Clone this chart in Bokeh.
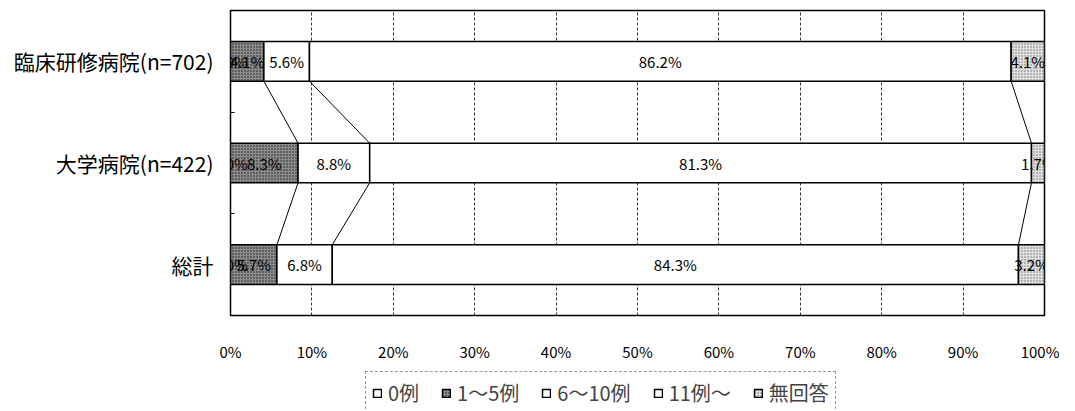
import numpy as np
from bokeh.plotting import figure
from bokeh.layouts import column
from bokeh.models import (Range1d, FixedTicker, ColumnDataSource, LabelSet, Legend,
                          LegendItem, PrintfTickFormatter)
from bokeh.core.properties import value
from bokeh.embed import file_html
from bokeh.resources import INLINE

categories = ["臨床研修病院(n=702)", "大学病院(n=422)", "総計"]
series = ["0例", "1～5例", "6～10例", "11例～", "無回答"]
v_0 = [0.0, 0.0, 0.0]
v_1_5 = [4.1, 8.3, 5.7]
v_6_10 = [5.6, 8.8, 6.8]
v_11 = [86.2, 81.3, 84.3]
v_na = [4.1, 1.7, 3.2]
x_ticks = [0, 10, 20, 30, 40, 50, 60, 70, 80, 90, 100]

values = [v_0, v_1_5, v_6_10, v_11, v_na]
fills = ["white", "#8c8c8c", "white", "white", "#e0e0e0"]
hatches = [None, "dot", None, None, "dot"]
hatch_cols = ["black", "#111111", "black", "black", "#666666"]

FONT = "Noto Sans CJK JP"
BAR_H = 0.39
W = 1059


def style_kw(j):
    kw = dict(fill_color=fills[j], line_color="black", line_width=1.5)
    if hatches[j]:
        kw.update(hatch_pattern=hatches[j], hatch_color=hatch_cols[j], hatch_scale=3,
                  hatch_weight=1, hatch_alpha=0.9)
    return kw


p = figure(width=W, height=364, output_backend="svg", toolbar_location=None,
           x_range=Range1d(0, 100), y_range=Range1d(-0.5, len(categories) - 0.5),
           min_border_left=230, min_border_right=15, min_border_top=10,
           min_border_bottom=46)
p.background_fill_color = "white"
p.border_fill_color = "white"
p.outline_line_color = "black"
p.outline_line_width = 1.5

ys = [len(categories) - 1 - i for i in range(len(categories))]

# x axis
p.xaxis.ticker = FixedTicker(ticks=x_ticks)
p.xaxis.formatter = PrintfTickFormatter(format="%d%%")
p.xaxis.axis_line_color = None
p.xaxis.major_tick_line_color = None
p.xaxis.major_tick_in = 0
p.xaxis.major_tick_out = 0
p.xaxis.minor_tick_line_color = None
p.xaxis.minor_tick_out = 0
p.xaxis.major_label_standoff = 25
p.xaxis.major_label_text_font = FONT
p.xaxis.major_label_text_font_size = "15px"
p.xaxis.major_label_text_color = "black"

# y axis
p.yaxis.ticker = FixedTicker(ticks=ys, minor_ticks=[y + 0.5 for y in ys[1:]])
p.yaxis.major_label_overrides = {y: c for y, c in zip(ys, categories)}
p.yaxis.axis_line_color = None
p.yaxis.major_tick_line_color = None
p.yaxis.major_tick_in = 0
p.yaxis.major_tick_out = 0
p.yaxis.minor_tick_in = 4
p.yaxis.minor_tick_out = 0
p.yaxis.minor_tick_line_color = "black"
p.yaxis.major_label_standoff = 17
p.yaxis.major_label_text_font = FONT
p.yaxis.major_label_text_font_size = "21px"
p.yaxis.major_label_text_color = "black"

# grid
p.xgrid.ticker = FixedTicker(ticks=x_ticks)
p.xgrid.grid_line_color = "#333333"
p.xgrid.grid_line_dash = "3 2"
p.xgrid.grid_line_width = 1
p.ygrid.visible = False

vals = np.array(values)
cum = np.cumsum(vals, axis=0)
lefts = cum - vals

for j, s in enumerate(series):
    src = ColumnDataSource(dict(
        y=ys, left=list(lefts[j]), right=list(cum[j]),
        xc=list((lefts[j] + cum[j]) / 2),
        label=[f"{v:.1f}%" for v in values[j]],
    ))
    p.hbar(y="y", left="left", right="right", height=BAR_H, source=src, **style_kw(j))
    p.add_layout(LabelSet(x="xc", y="y", text="label", source=src,
                          text_align="center", text_baseline="middle",
                          text_font=value(FONT), text_font_size="15px",
                          text_color="black"))

# series lines connecting segment ends
x0, y0, x1, y1 = [], [], [], []
for j in range(len(series)):
    for i in range(len(categories) - 1):
        x0.append(cum[j][i]); y0.append(ys[i] - BAR_H / 2)
        x1.append(cum[j][i + 1]); y1.append(ys[i + 1] + BAR_H / 2)
p.segment(x0=x0, y0=y0, x1=x1, y1=y1, line_color="black", line_width=1)

# legend strip: legend-only renderers (a single NaN row, so no mark is drawn)
lg = figure(width=W, height=47, output_backend="svg", toolbar_location=None,
            x_axis_type=None, y_axis_type=None,
            x_range=Range1d(0, 100), y_range=Range1d(0, 1),
            min_border_left=230, min_border_top=0, min_border_right=15,
            min_border_bottom=0)
lg.outline_line_color = None
lg.grid.visible = False
lg.background_fill_color = "white"
lg.border_fill_color = "white"
items = []
for j, s in enumerate(series):
    nan_src = ColumnDataSource(dict(y=np.array([np.nan]), left=np.array([np.nan]),
                                    right=np.array([np.nan])))
    r = lg.hbar(y="y", left="left", right="right", height=BAR_H, source=nan_src,
                **style_kw(j))
    items.append(LegendItem(label=s, renderers=[r]))
legend = Legend(items=items, location=(135, -3), orientation="horizontal",
                label_text_font=FONT, label_text_font_size="20px",
                glyph_width=10, glyph_height=10, label_standoff=6, spacing=22,
                padding=6, margin=0, border_line_color="#333333",
                border_line_dash="2 2", background_fill_color="white",
                background_fill_alpha=1)
lg.add_layout(legend)

open("out.html", "w").write(file_html(column(p, lg, spacing=0), INLINE))
